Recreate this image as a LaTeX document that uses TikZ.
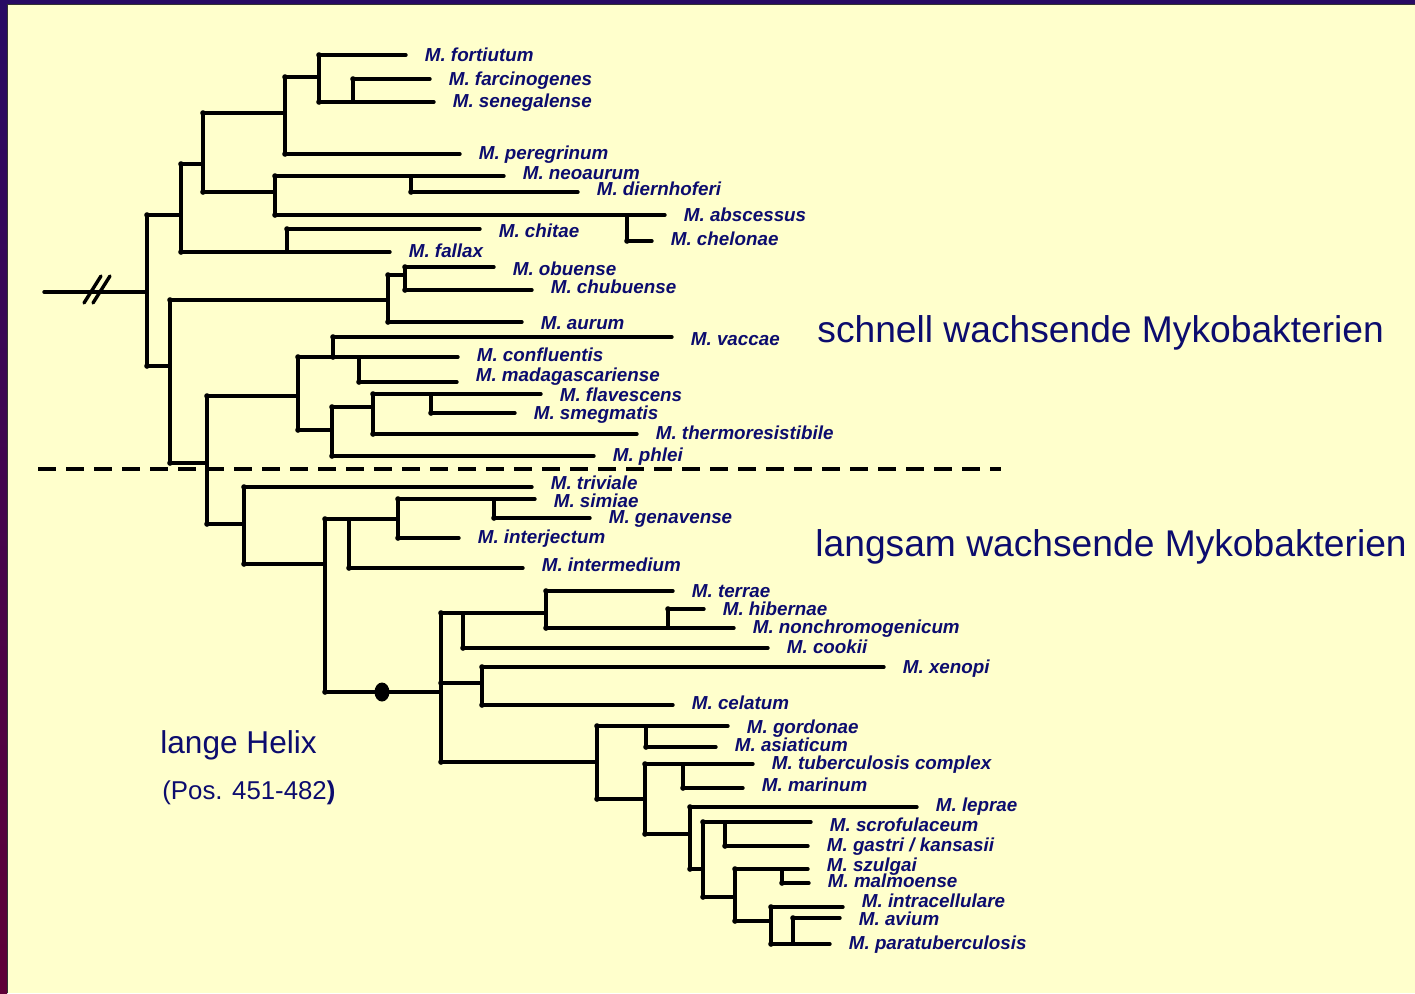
\documentclass[tikz,border=0pt]{standalone}
\usepackage{fontspec}
\setmainfont{Liberation Sans}
\usepackage{tikz}
\usetikzlibrary{calc}
\usetikzlibrary{shapes.geometric}

\definecolor{navy}{RGB}{12,12,110}
\definecolor{bgyellow}{RGB}{255,255,204}
\definecolor{framea}{RGB}{40,10,100}
\definecolor{frameb}{RGB}{95,0,55}

\tikzset{
 branch/.style={black, line width=1.7pt, line cap=round, line join=round},
 leaf/.style={anchor=west, inner sep=0pt, text height=7pt, text depth=0pt,
   text=navy, font=\bfseries\itshape\fontsize{9.4}{11}\selectfont},
 title/.style={anchor=base west, inner sep=0pt, text=navy},
 helixdot/.style={ellipse, fill=black, inner sep=0pt, minimum width=7.5pt, minimum height=9.5pt}
}

\newcommand{\br}[2]{\draw[branch] (#1) |- (#2); \fill (#1 |- #2) circle (1.4pt);}

\begin{document}
\begin{tikzpicture}[x=0.5pt, y=-0.5pt]

\useasboundingbox (0,0) rectangle (1415,993);
\fill[bgyellow] (0,0) rectangle (1415,993);
\shade[top color=framea, bottom color=frameb] (0,0) rectangle (7,993);
\fill[framea] (0,0) rectangle (1415,4);
\draw[black!80, line width=0.6pt] (7.5,993) -- (7.5,4.5) -- (1415,4.5);

% inner nodes of the tree
\foreach \nm/\xx/\yy in {k147/147/292, k181/181/215, k203/203/164, k285/285/113, k319/319/77,
  k353/353/102, k275/275/192, k411/411/176, k627/627/215, k287/287/252, k170/170/366,
  k388/388/300, k405/405/275, k207/207/463, k298/298/396, k333/333/357, k359/359/357,
  k332/332/430, k373/373/407, k431/431/394, k244/244/524, k325/325/564, k349/349/519,
  k398/398/519, k494/494/499, k441/441/692, k463/463/613, k546/546/613, k668/668/628,
  k482/482/683, k597/597/762, k646/646/726, k645/645/799, k683/683/764, k690/690/834,
  k703/703/869, k725/725/822, k735/735/897, k782/782/869, k771/771/921, k793/793/944}
 \coordinate (\nm) at (\xx,\yy);

% tips and species names
\foreach \nm/\xe/\yl/\dy/\lbl in {fortiutum/406/55/-1/fortiutum, farcinogenes/430/79/-1/farcinogenes,
  senegalense/434/102/-2/senegalense, peregrinum/460/154/-2/peregrinum, neoaurum/504/176/-4/neoaurum,
  diernhoferi/578/192/-4/diernhoferi, abscessus/665/215/-1/abscessus, chitae/480/229/1/chitae,
  chelonae/652/241/-3/chelonae, fallax/390/252/-2/fallax, obuense/494/267/1/obuense,
  chubuense/532/290/-4/chubuense, aurum/522/322/0/aurum, vaccae/672/337/1/vaccae,
  confluentis/458/357/-3/confluentis, madagascariense/457/382/-8/madagascariense,
  flavescens/541/394/0/flavescens, smegmatis/515/413/-1/smegmatis,
  thermoresistibile/637/434/-2/thermoresistibile, phlei/594/456/-2/phlei,
  triviale/532/487/-5/triviale, simiae/535/499/1/simiae, genavense/590/518/-2/genavense,
  interjectum/459/538/-2/interjectum, intermedium/523/568/-4/intermedium, terrae/673/591/-1/terrae,
  hibernae/704/609/-1/hibernae, nonchromogenicum/734/628/-2/nonchromogenicum, cookii/768/648/-2/cookii,
  xenopi/884/667/-1/xenopi, celatum/673/705/-3/celatum, gordonae/728/726/0/gordonae,
  asiaticum/716/747/-3/asiaticum, tuberculosis/753/764/-2/{tuberculosis complex},
  marinum/743/788/-4/marinum, leprae/917/807/-3/leprae, scrofulaceum/811/822/2/scrofulaceum,
  gastri/808/846/-2/{gastri / kansasii}, szulgai/808/869/-5/szulgai, malmoense/809/883/-3/malmoense,
  intracellulare/843/907/-7/intracellulare, avium/840/918/0/avium,
  paratuberculosis/830/944/-2/paratuberculosis}
 {\coordinate (tip\nm) at (\xe,\yl);
  \node[leaf] (\nm) at ($(tip\nm)+(18.5,\dy)$) {M. \lbl};}

\coordinate (root) at (44,292);
\draw[branch] (root) -- (k147);
\draw[branch] (84,303) -- (101,276);
\draw[branch] (93,303) -- (110,276);

\foreach \p/\c in {k147/k181, k147/k170, k181/k203, k181/tipfallax, k287/tipchitae,
  k203/k285, k203/k275, k285/k319, k285/tipperegrinum, k319/tipfortiutum, k319/tipsenegalense,
  k353/tipfarcinogenes, k275/tipneoaurum, k275/tipabscessus, k411/tipdiernhoferi, k627/tipchelonae,
  k170/k388, k170/k207, k388/k405, k388/tipaurum, k405/tipobuense, k405/tipchubuense,
  k207/k298, k207/k244, k298/k333, k298/k332, k333/tipvaccae, k333/tipconfluentis,
  k359/tipmadagascariense, k332/k373, k332/tipphlei, k373/tipflavescens, k373/tipthermoresistibile,
  k431/tipsmegmatis, k244/tiptriviale, k244/k325, k325/k398, k325/k441, k349/tipintermedium,
  k398/tipsimiae, k398/tipinterjectum, k494/tipgenavense, k441/k546, k441/k482, k441/k597,
  k463/tipcookii, k546/tipterrae, k546/tipnonchromogenicum, k668/tiphibernae, k482/tipxenopi,
  k482/tipcelatum, k597/tipgordonae, k597/k645, k646/tipasiaticum, k645/tiptuberculosis,
  k645/k690, k683/tipmarinum, k690/tipleprae, k690/k703, k703/tipscrofulaceum, k703/k735,
  k725/tipgastri, k735/tipszulgai, k735/k771, k782/tipmalmoense, k771/tipintracellulare,
  k771/tipparatuberculosis, k793/tipavium}
 {\br{\p}{\c}}

\node[helixdot] (helix) at (382,692) {};

\draw[black, line width=1.6pt, dash pattern=on 9pt off 5pt] (38,469) -- (1001,469);

\node[title, font=\fontsize{18.6}{22}\selectfont] (schnell) at (817,342) {schnell wachsende Mykobakterien};
\node[title, font=\fontsize{18.6}{22}\selectfont] (langsam) at (815,556) {langsam wachsende Mykobakterien};
\node[title, font=\fontsize{15.8}{19}\selectfont] (helixtxt) at (160,753) {lange Helix};
\node[title, font=\fontsize{12.9}{15}\selectfont] (pos) at (162,799) {(Pos. 451-482\textbf{)}};

\end{tikzpicture}
\end{document}
